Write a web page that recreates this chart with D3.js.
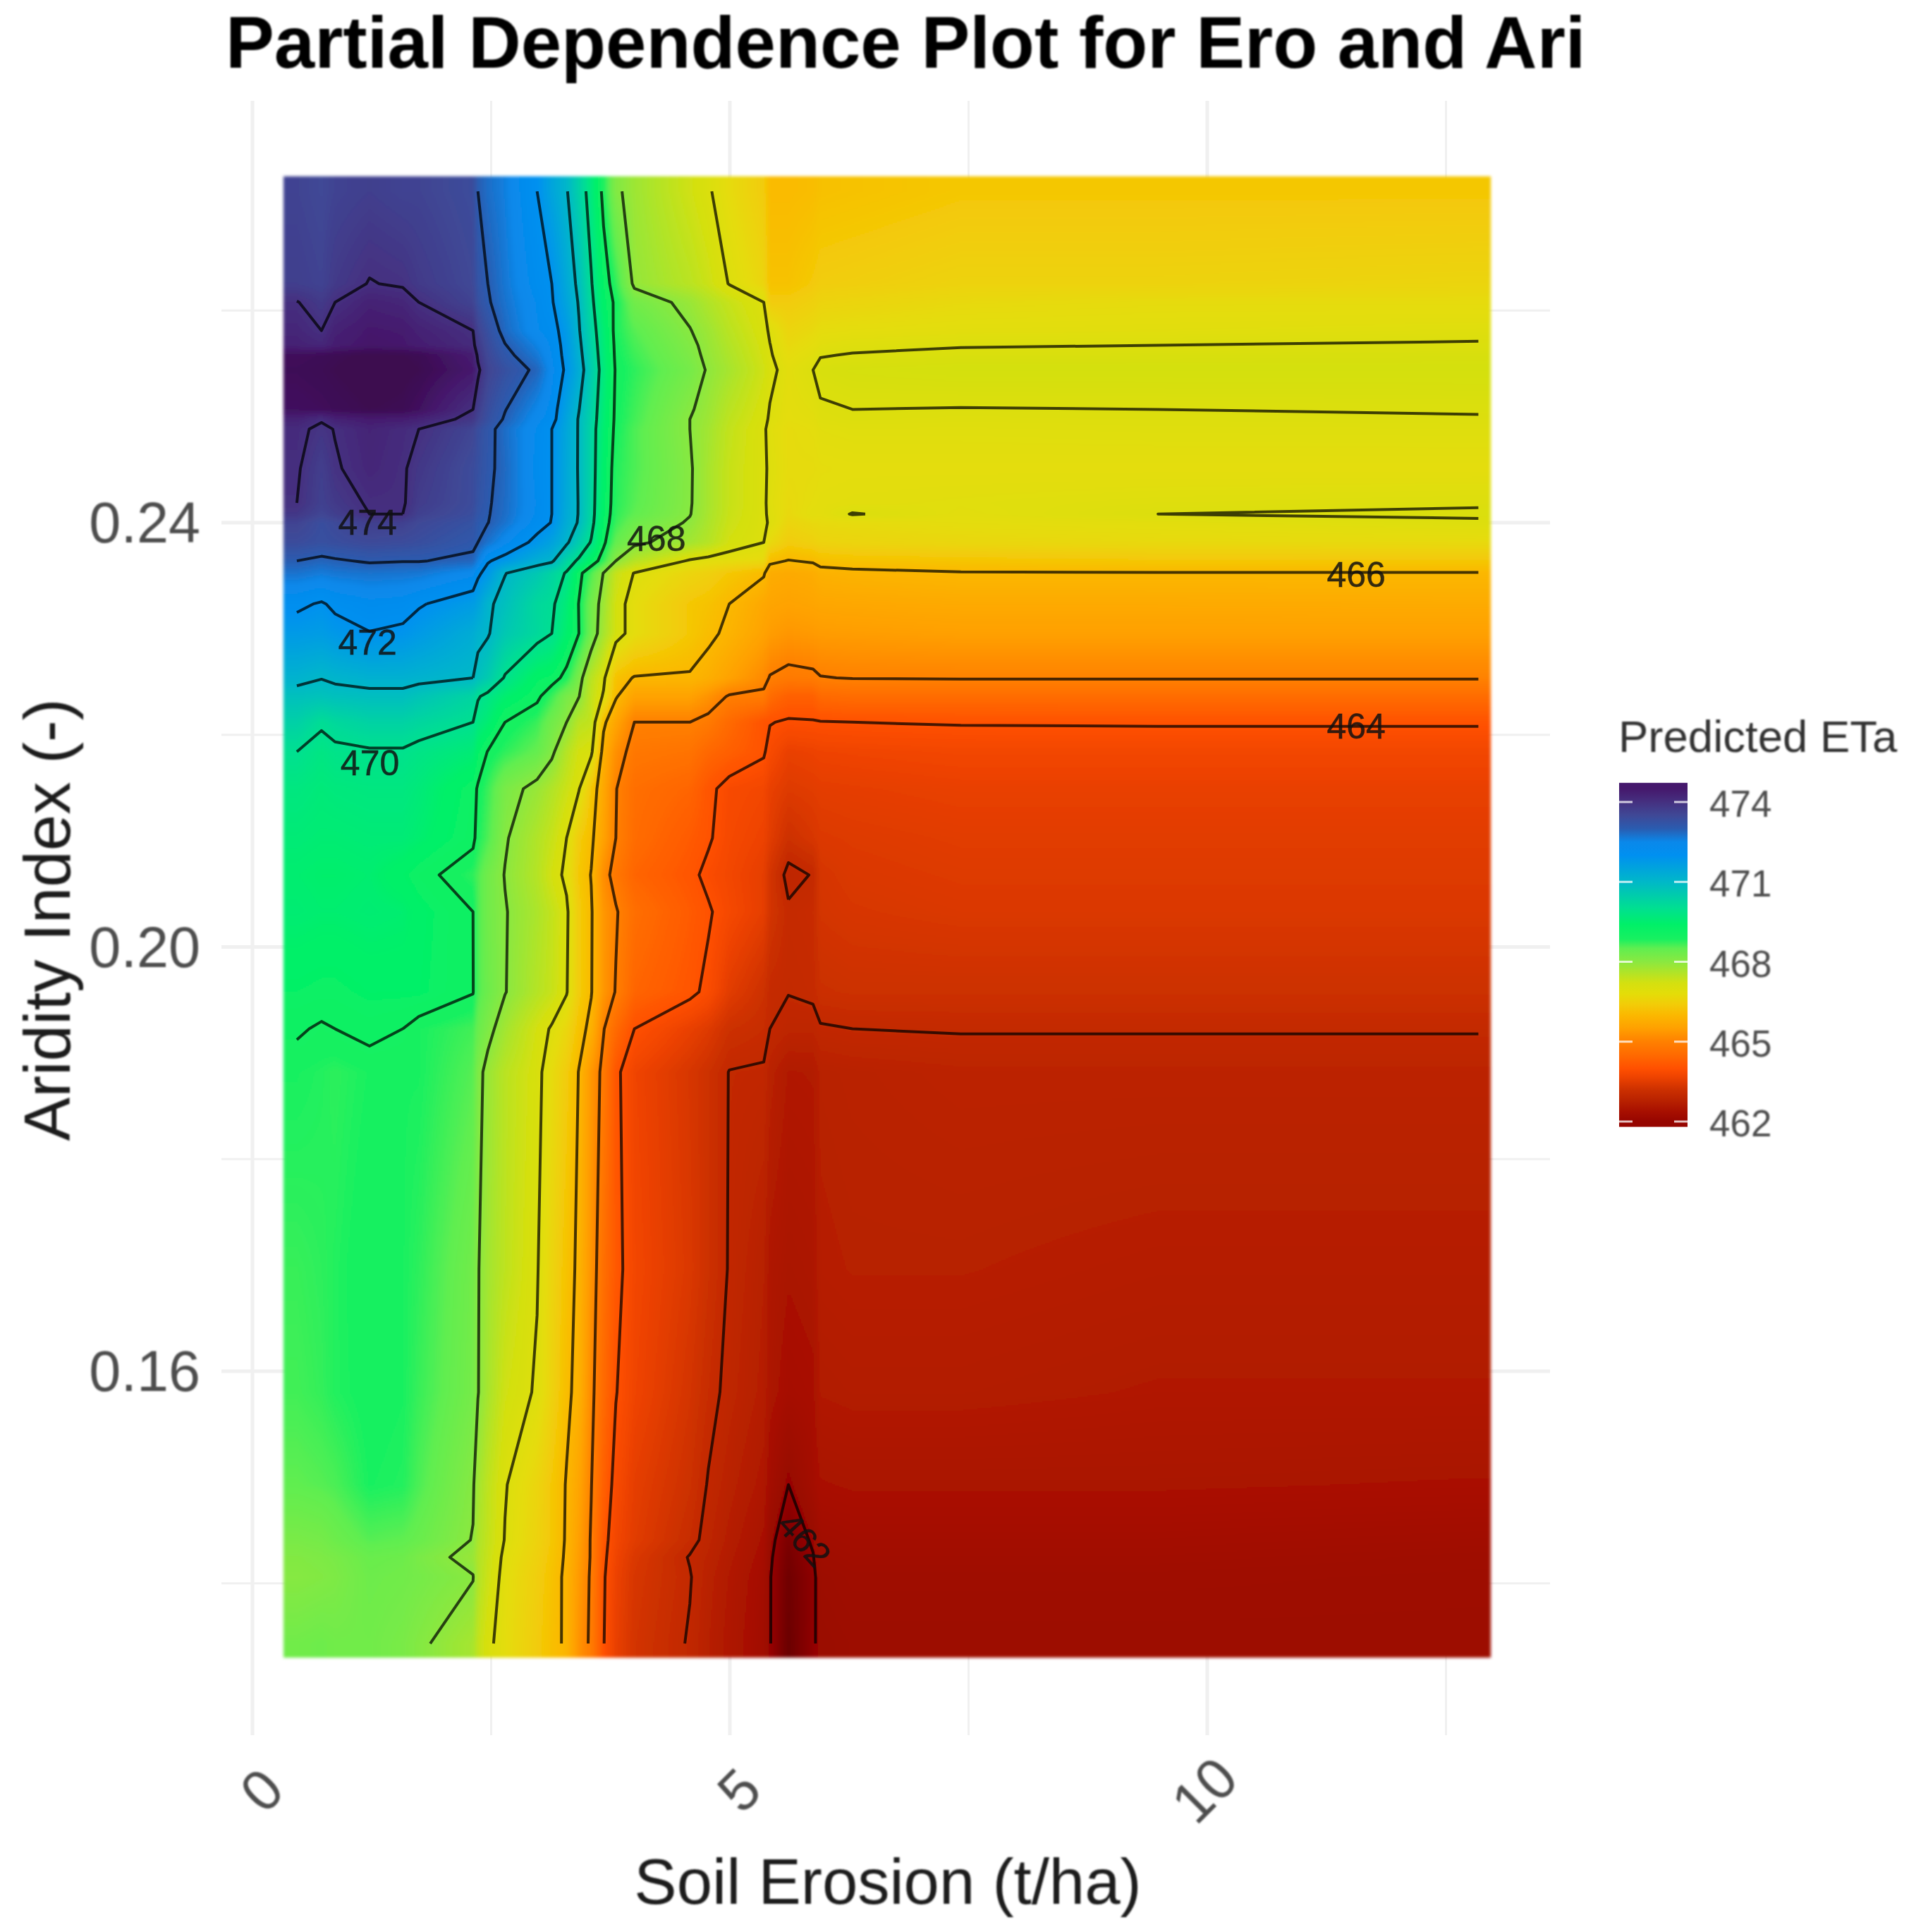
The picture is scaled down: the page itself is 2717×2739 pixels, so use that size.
<!DOCTYPE html>
<html><head><meta charset="utf-8">
<style>html,body{margin:0;background:#fff}svg{display:block}text{font-family:"Liberation Sans",Arial,sans-serif}</style>
<script src="https://cdn.jsdelivr.net/npm/d3@7"></script></head><body>
<script>
const titleText="Partial Dependence Plot for Ero and Ari";
const xTitle="Soil Erosion (t/ha)", yTitle="Aridity Index (-)", legendTitle="Predicted ETa";
const xTicks=[0,5,10], xMinor=[2.5,7.5,12.5];
const yTicks=[0.16,0.20,0.24], yMinor=[0.14,0.18,0.22,0.26];
const legendTicks=[474,471,468,465,462];
const levels=[462,463,464,465,466,467,468,469,470,471,472,473,474];
const colorStops=[461.6,462,462.4,462.8,463.2,463.7,464,464.5,465,465.5,466,466.4,466.8,467.2,467.6,468,468.5,468.85,469.4,470,471,472,472.5,473,473.5,474,474.5,474.9];
const colorValues=["#6a0000","#960500","#a81000","#b92200","#cc3000","#f04400","#ff5000","#ff6a00","#ff8000","#ffa000","#fbb800","#f2cc08","#e4dd08","#d4e010","#b0e428","#8ae840","#60ee50","#18f060","#00f068","#00e090","#00b8c8","#0090f0","#0a88ea","#2a5cb0","#3f4896","#453080","#45186c","#3c0a50"];
const contourLabels=[["474",1.205,0.2400],["472",1.205,0.2287],["470",1.23,0.2173],["468",4.23,0.2385],["466",11.56,0.2351],["464",11.56,0.2208],["462",5.78,0.1441]];
const xGrid=[.465,.723,.865,1.226,1.574,1.742,2.31,2.361,2.465,2.645,2.981,3.135,3.29,3.419,3.548,3.677,3.806,4,4.581,4.774,4.994,5.355,5.419,5.613,5.871,5.948,6.284,7.419,9.484,12.839];
const yGrid=[.27124,.26253,.26078,.25811,.25672,.25579,.2544,.25068,.24975,.24882,.24511,.24186,.24081,.24,.23814,.2364,.23524,.23234,.22955,.22537,.22363,.22119,.2184,.21492,.21027,.20679,.20331,.19576,.19228,.18821,.16963,.15802,.14931,.14409,.14246,.1406,.13433];
const etaRows=[
[473.6,473.5,473.6,473.7,473.6,473.6,473.4,473.0,472.8,472.6,472.0,471.5,471.05,470.4,469.7,468.85,468.1,467.8,467.25,467.05,466.75,466.4,466.05,466.05,466.1,466.17,466.2,466.3,466.3,466.3],
[473.7,473.6,473.8,474.02,473.95,473.8,473.5,473.2,473.0,472.7,472.2,472.0,471.4,470.85,470.05,469.25,468.75,467.9,467.5,467.3,466.98,466.6,466.2,466.2,466.35,466.42,466.45,466.55,466.55,466.6],
[474.02,473.8,474.0,474.3,474.2,474.0,473.6,473.3,473.05,472.75,472.3,472.05,471.5,470.95,470.15,469.35,468.9,468.3,467.85,467.6,467.35,467.0,466.4,466.4,466.5,466.57,466.6,466.7,466.75,466.75],
[474.2,474.0,474.3,474.5,474.45,474.3,474.0,473.6,473.3,472.85,472.35,472.2,471.75,471.05,470.3,469.55,468.85,468.55,468.02,467.8,467.5,467.1,466.95,466.6,466.7,466.77,466.8,466.85,466.87,466.92],
[474.3,474.2,474.4,474.55,474.5,474.4,474.1,473.79,473.41,473.02,472.56,472.28,471.81,471.14,470.39,469.61,468.89,468.63,468.11,467.86,467.58,467.16,467.01,466.69,466.81,466.88,466.93,466.98,467.0,467.03],
[474.75,474.8,474.85,474.95,474.9,474.85,474.4,473.91,473.49,473.13,472.68,472.32,471.84,471.2,470.46,469.64,468.91,468.68,468.16,467.89,467.63,467.19,467.04,466.76,466.89,466.98,467.02,467.07,467.08,467.1],
[474.8,474.85,474.9,475.0,474.95,474.9,474.5,474.1,473.6,473.3,472.9,472.4,471.9,471.3,470.55,469.7,468.95,468.75,468.25,467.95,467.7,467.25,467.1,466.85,467.0,467.1,467.15,467.2,467.2,467.2],
[474.7,474.75,474.8,474.9,474.85,474.7,474.0,473.7,473.36,473.02,472.5,472.24,471.58,471.02,470.39,469.58,468.91,468.67,468.05,467.83,467.5,467.13,466.98,466.81,466.88,466.96,467.0,466.99,467.0,467.02],
[474.3,474.05,474.3,474.45,474.4,474.3,473.85,473.6,473.3,472.95,472.4,472.2,471.5,470.95,470.35,469.55,468.9,468.65,468.0,467.8,467.45,467.1,466.95,466.8,466.85,466.93,466.97,466.94,466.96,466.98],
[474.1,473.9,474.02,474.25,474.1,474.0,473.55,473.35,473.15,472.8,472.3,472.0,471.45,470.95,470.3,469.5,468.88,468.6,468.0,467.75,467.4,467.05,466.9,466.75,466.8,466.87,466.9,466.9,466.92,466.93],
[474.05,473.7,473.95,474.2,474.05,473.85,473.4,473.3,473.1,472.85,472.25,472.0,471.4,470.95,470.3,469.4,468.8,468.6,468.05,467.7,467.35,467.05,466.95,466.75,466.75,466.78,466.8,466.8,466.8,466.8],
[474.0,473.65,473.8,474.05,474.05,473.75,473.4,473.22,473.05,472.82,472.3,472.0,471.38,470.97,470.27,469.33,468.78,468.55,468.04,467.7,467.35,467.05,466.92,466.7,466.8,466.83,466.85,466.88,466.93,466.97],
[473.85,473.55,473.7,474.0,474.0,473.65,473.35,473.15,473.03,472.8,472.28,472.0,471.35,470.97,470.25,469.3,468.75,468.5,468.02,467.68,467.33,467.04,466.95,466.68,466.85,466.82,467.02,466.85,467.0,467.04],
[473.6,473.35,473.45,473.7,473.65,473.5,473.25,473.05,473.01,472.75,472.2,471.98,471.3,470.95,470.2,469.25,468.7,468.35,467.95,467.65,467.3,467.03,466.98,466.6,466.7,466.73,466.75,466.8,466.85,466.96],
[473.4,473.3,473.35,473.45,473.4,473.35,473.1,473.0,472.75,472.4,471.85,471.55,471.1,470.5,469.95,469.1,468.45,468.1,467.75,467.55,467.2,467.0,466.7,466.4,466.5,466.57,466.6,466.65,466.7,466.72],
[473.0,472.9,472.95,473.05,473.02,473.02,472.9,472.6,472.05,471.8,471.25,471.1,470.3,469.9,469.3,468.75,468.0,467.55,466.95,466.85,466.8,466.7,466.1,465.98,466.05,466.15,466.2,466.25,466.3,466.3],
[472.75,472.65,472.7,472.75,472.72,472.7,472.4,472.1,471.8,471.02,470.6,470.3,469.95,469.15,468.6,467.98,467.35,466.98,466.6,466.5,466.3,466.05,465.75,465.7,465.75,465.85,465.9,465.97,465.98,465.98],
[472.1,471.95,472.1,472.25,472.2,472.05,471.7,471.55,471.1,470.8,470.2,470.1,469.6,468.98,468.3,467.8,467.2,466.8,466.3,466.2,466.0,465.65,465.6,465.55,465.6,465.63,465.65,465.7,465.7,465.72],
[471.75,471.7,471.8,471.98,471.9,471.75,471.3,471.15,471.05,470.6,470.2,470.0,469.45,469.0,468.3,467.7,467.2,466.8,466.3,466.1,465.9,465.55,465.45,465.35,465.4,465.43,465.45,465.5,465.5,465.5],
[471.15,471.02,471.1,471.2,471.2,471.15,471.0,470.8,470.55,469.95,469.3,469.2,468.85,468.2,467.5,467.1,466.2,465.97,465.95,465.8,465.55,465.15,464.97,464.85,464.9,464.98,465.02,465.03,465.03,465.03],
[470.8,470.75,470.8,470.85,470.85,470.7,470.3,470.05,469.85,469.5,469.1,468.7,468.2,468.02,467.4,466.95,466.05,465.55,465.55,465.3,464.95,464.9,464.55,464.3,464.3,464.5,464.55,464.55,464.55,464.55],
[470.4,470.08,470.2,470.35,470.35,470.25,470.0,469.75,469.55,469.0,468.7,468.3,468.0,467.5,467.4,466.1,465.6,465.0,465.0,464.85,464.5,464.05,464.02,463.95,463.97,463.98,464.0,464.03,464.04,464.04],
[470.0,469.8,469.9,469.95,469.95,469.85,469.6,469.3,468.98,468.75,468.45,468.1,467.55,467.2,467.1,465.8,465.25,464.8,464.7,464.45,464.3,464.05,463.85,463.6,463.65,463.68,463.7,463.75,463.75,463.75],
[469.75,469.65,469.7,469.75,469.75,469.65,469.15,468.95,468.7,468.2,467.85,467.6,467.3,467.03,466.3,465.65,465.02,464.6,464.4,464.1,463.85,463.75,463.6,463.45,463.5,463.53,463.55,463.6,463.6,463.6],
[469.6,469.55,469.55,469.6,469.6,469.5,469.1,468.85,468.6,468.05,467.6,467.35,467.0,466.4,466.1,465.55,465.0,464.55,464.2,464.05,463.8,463.65,463.5,463.2,463.35,463.42,463.45,463.5,463.5,463.5],
[469.5,469.45,469.45,469.5,469.3,469.15,468.75,468.6,468.3,467.98,467.55,467.2,466.9,466.3,465.98,465.2,464.8,464.4,464.1,463.9,463.75,463.55,463.3,462.9,463.02,463.33,463.4,463.45,463.45,463.45],
[469.55,469.5,469.5,469.55,469.5,469.35,469.0,468.6,468.3,468.03,467.65,467.4,467.08,466.4,466.05,465.35,465.05,464.6,464.2,464.05,463.8,463.55,463.3,463.05,463.1,463.3,463.35,463.4,463.4,463.4],
[469.25,469.2,469.2,469.3,469.3,469.3,469.02,468.6,468.35,468.02,467.55,467.35,467.03,466.4,466.03,465.35,464.97,464.4,464.1,463.9,463.5,463.2,463.05,463.01,463.05,463.17,463.2,463.2,463.2,463.2],
[469.05,468.95,469.0,469.1,469.0,468.85,468.65,468.4,468.15,467.75,467.2,466.95,466.65,466.2,465.85,465.03,464.5,464.0,463.6,463.45,463.2,463.1,463.0,462.9,462.9,462.97,463.0,463.02,463.02,463.02],
[468.85,468.8,468.75,468.85,468.85,468.85,468.55,468.15,467.85,467.5,467.12,466.75,466.4,465.98,465.35,464.85,464.1,463.7,463.35,463.2,462.99,462.97,462.8,462.6,462.62,462.77,462.8,462.85,462.85,462.85],
[468.7,468.75,468.8,468.93,468.85,468.75,468.3,468.03,467.75,467.45,467.03,466.6,466.2,465.9,465.3,464.6,464.15,463.75,463.4,463.2,462.98,462.75,462.55,462.45,462.5,462.72,462.75,462.75,462.7,462.7],
[468.65,468.72,468.8,468.9,468.85,468.7,468.25,468.02,467.7,467.25,466.95,466.55,466.1,465.85,465.15,464.5,464.02,463.7,463.3,463.1,462.92,462.7,462.5,462.35,462.4,462.62,462.65,462.65,462.6,462.6],
[468.5,468.55,468.6,468.85,468.8,468.6,468.05,467.75,467.45,467.03,466.6,466.3,465.97,465.6,465.02,464.3,463.85,463.55,463.2,462.98,462.8,462.55,462.3,462.0,462.3,462.42,462.45,462.45,462.45,462.42],
[468.2,468.25,468.35,468.55,468.5,468.4,467.98,467.65,467.4,466.98,466.55,466.3,465.95,465.5,464.95,464.15,463.75,463.5,463.1,462.9,462.7,462.4,462.1,461.75,462.05,462.25,462.3,462.3,462.3,462.25],
[468.1,468.15,468.2,468.4,468.35,468.2,467.85,467.6,467.35,466.9,466.5,466.25,465.93,465.45,464.95,464.1,463.7,463.4,462.98,462.85,462.65,462.35,462.05,461.7,461.98,462.2,462.25,462.25,462.25,462.2],
[468.05,468.1,468.15,468.35,468.3,468.25,468.02,467.6,467.3,466.85,466.45,466.2,465.9,465.4,464.92,464.05,463.65,463.35,463.02,462.8,462.6,462.3,462.02,461.65,461.92,462.15,462.2,462.2,462.2,462.18],
[468.3,468.35,468.3,468.3,468.2,468.08,467.7,467.4,467.1,466.8,466.4,466.15,465.92,465.3,464.9,464.02,463.6,463.3,462.97,462.75,462.55,462.25,462.02,461.6,461.95,462.1,462.15,462.15,462.15,462.15]
];

const W=2717,H=2739;
const x=d3.scaleLinear().domain([0,10]).range([358,1712]);
const y=d3.scaleLinear().domain([0.16,0.24]).range([1944,741]);
const color=d3.scaleLinear().domain(colorStops).range(colorValues).clamp(true);
const plotBox={l:402,r:2114,t:250,b:2350};
const svg=d3.select("body").append("svg").attr("width",W).attr("height",H).attr("viewBox",`0 0 ${W} ${H}`);
const defs=svg.append("defs");
defs.append("filter").attr("id","soft").attr("x","-2%").attr("y","-2%").attr("width","104%").attr("height","104%")
  .append("feGaussianBlur").attr("stdDeviation",2.2);
defs.append("filter").attr("id","softText").attr("x","-5%").attr("y","-5%").attr("width","110%").attr("height","110%")
  .append("feGaussianBlur").attr("stdDeviation",0.8);

// grid
const grid=svg.append("g").attr("stroke","#f0f0f0").attr("fill","none");
const vl=(v,w)=>grid.append("line").attr("x1",x(v)).attr("x2",x(v)).attr("y1",143).attr("y2",2460).attr("stroke-width",w);
const hl=(v,w)=>grid.append("line").attr("y1",y(v)).attr("y2",y(v)).attr("x1",314).attr("x2",2198).attr("stroke-width",w);
xMinor.forEach(v=>vl(v,3)); yMinor.forEach(v=>hl(v,3));
xTicks.forEach(v=>vl(v,5)); yTicks.forEach(v=>hl(v,5));

// heat surface: one block per grid step, bilinear between the read values
const n=xGrid.length,m=yGrid.length,idx=d3.range;
const xIdx=d3.scaleLinear().domain(xGrid.map(x)).range(idx(n)).clamp(true);
const yIdx=d3.scaleLinear().domain(yGrid.map(y)).range(idx(m)).clamp(true);
const step=2,cw=plotBox.r-plotBox.l,ch=plotBox.b-plotBox.t;
const cv=document.createElement("canvas");cv.width=cw;cv.height=ch;
const ctx=cv.getContext("2d");
const xs=idx(0,cw,step).map(p=>xIdx(plotBox.l+p+step/2));
for(let j=0;j<ch;j+=step){
  const fy=yIdx(plotBox.t+j+step/2),j0=Math.min(Math.floor(fy),m-2),ty=fy-j0,r0=etaRows[j0],r1=etaRows[j0+1];
  xs.forEach((fx,k)=>{
    const i0=Math.min(Math.floor(fx),n-2),tx=fx-i0;
    const v=(r0[i0]*(1-tx)+r0[i0+1]*tx)*(1-ty)+(r1[i0]*(1-tx)+r1[i0+1]*tx)*ty;
    ctx.fillStyle=color(v);ctx.fillRect(k*step,j,step,step);
  });
}
svg.append("image").attr("x",plotBox.l).attr("y",plotBox.t).attr("width",cw).attr("height",ch)
  .attr("href",cv.toDataURL()).attr("filter","url(#soft)");

// contours
const flat=etaRows.flat();
const contours=d3.contours().size([n,m]).smooth(true).thresholds(levels)(flat);
const pxX=d3.scaleLinear().domain(idx(n)).range(xGrid.map(x)).clamp(true);
const pxY=d3.scaleLinear().domain(idx(m)).range(yGrid.map(y)).clamp(true);
const inside=p=>p[0]>0&&p[0]<n&&p[1]>0&&p[1]<m;
const line=d3.line().x(p=>pxX(p[0]-.5)).y(p=>pxY(p[1]-.5));
const cg=svg.append("g").attr("fill","none").attr("stroke","#000").attr("stroke-opacity",.72).attr("stroke-width",4).attr("stroke-linejoin","round");
contours.forEach(c=>{
  const pieces=[];
  c.coordinates.forEach(poly=>poly.forEach(ring=>{
    let cur=[];
    ring.forEach(p=>{ if(inside(p)) cur.push(p); else { if(cur.length>1) pieces.push(cur); cur=[]; } });
    if(cur.length>1) pieces.push(cur);
  }));
  cg.append("path").attr("data-level",c.value).attr("d",pieces.map(line).join(""));
});
svg.append("g").selectAll("text").data(contourLabels).join("text")
  .attr("text-anchor","middle").attr("dominant-baseline","central").attr("font-size",50).attr("fill","#111").attr("fill-opacity",.85)
  .attr("stroke","#111").attr("stroke-opacity",.5).attr("stroke-width",.8)
  .attr("transform",d=>`translate(${x(d[1])},${y(d[2])}) rotate(${d[0]==="462"?48:0})`).text(d=>d[0]);

// axes text
const txt=svg.append("g").attr("filter","url(#softText)");
txt.append("text").attr("x",320).attr("y",96).attr("font-size",103.2).attr("font-weight","bold").attr("fill","#000").text(titleText);
yTicks.forEach(v=>txt.append("text").attr("x",284).attr("y",y(v)+28).attr("text-anchor","end").attr("font-size",81).attr("fill","#4d4d4d").text(v.toFixed(2)));
xTicks.forEach(v=>txt.append("text").attr("text-anchor","middle").attr("dominant-baseline","central").attr("font-size",81).attr("fill","#4d4d4d")
  .attr("transform",`translate(${x(v)+(v===10?-4:13)},2538) rotate(-45)`).text(v));
txt.append("text").attr("x",1259).attr("y",2699).attr("text-anchor","middle").attr("font-size",90.5).attr("fill","#1a1a1a").text(xTitle);
txt.append("text").attr("text-anchor","middle").attr("font-size",92.5).attr("fill","#1a1a1a").attr("transform","translate(99,1304) rotate(-90)").text(yTitle);

// legend
const ly=d3.scaleLinear().domain([462,474]).range([1590,1137]);
const grad=defs.append("linearGradient").attr("id","bar").attr("x1",0).attr("x2",0).attr("y1",1).attr("y2",0);
const lMin=461.8,lMax=474.72;
colorStops.filter(s=>s>=lMin&&s<=lMax).forEach(s=>grad.append("stop").attr("offset",(s-lMin)/(lMax-lMin)).attr("stop-color",color(s)));
const lg=svg.append("g");
lg.append("rect").attr("x",2296).attr("width",97).attr("y",ly(lMax)).attr("height",ly(lMin)-ly(lMax)).attr("fill","url(#bar)");
legendTicks.forEach(v=>{
  [[2296,2315],[2374,2393]].forEach(([a,b])=>lg.append("line").attr("x1",a).attr("x2",b).attr("y1",ly(v)).attr("y2",ly(v)).attr("stroke","#fff").attr("stroke-width",3).attr("stroke-opacity",.75));
});
const lt=svg.append("g").attr("filter","url(#softText)");
legendTicks.forEach(v=>lt.append("text").attr("x",2424).attr("y",ly(v)+21).attr("font-size",53).attr("fill","#4d4d4d").text(v));
lt.append("text").attr("x",2295).attr("y",1066).attr("font-size",63.5).attr("fill","#333").text(legendTitle);
</script></body></html>
